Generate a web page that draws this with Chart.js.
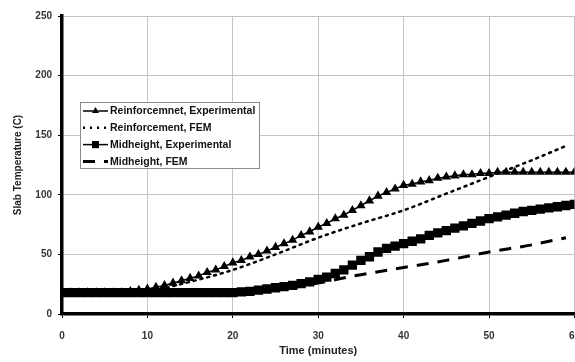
<!DOCTYPE html>
<html>
<head>
<meta charset="utf-8">
<script src="https://cdn.jsdelivr.net/npm/chart.js@4/dist/chart.umd.min.js"></script>
<style>
  html, body { margin: 0; padding: 0; background: #fff; overflow: hidden; }
  #wrap { width: 592px; height: 362px; }
</style>
</head>
<body>
<div id="wrap"><canvas id="myChart" width="592" height="362"></canvas></div>
<script>
// time in minutes for the experimental readings
const timeExp = [0, 1, 2, 3, 4, 5, 6, 7, 8, 9, 10, 11, 12, 13, 14, 15, 16, 17, 18, 19, 20,
    21, 22, 23, 24, 25, 26, 27, 28, 29, 30, 31, 32, 33, 34, 35, 36, 37, 38, 39, 40,
    41, 42, 43, 44, 45, 46, 47, 48, 49, 50, 51, 52, 53, 54, 55, 56, 57, 58, 59, 60];
const reinfExp = [18, 18, 18, 18, 18, 18, 18, 18, 19, 20, 21, 22.5, 24, 26, 28, 30, 32, 35, 37, 40, 43,
    45, 48, 50, 53, 56, 59, 62, 66, 69, 73, 76, 80, 83, 87, 91, 95, 99, 102, 105, 108,
    109, 111, 112, 114, 115, 116, 117, 117, 118, 118, 119, 119, 119, 119, 119, 119, 119, 119, 119, 119];
const midExp = [18, 18, 18, 18, 18, 18, 18, 18, 18, 18, 18, 18, 18, 18, 18, 18, 18, 18, 18, 18, 18,
    18.5, 19, 20, 21, 22, 23, 24, 25.5, 27, 29, 31, 34, 37, 41, 45, 48, 52, 55, 57, 59,
    61, 63, 66, 68, 70, 72, 74, 76, 78, 80, 81.5, 83, 84.5, 86, 87, 88, 89, 90, 91, 92];

// FEM curves
const timeFem = [0, 5, 10, 15, 20, 25, 30, 35, 40, 45, 50, 55, 59];
const reinfFem = [17, 17, 19, 27, 37, 50, 64, 76, 87, 101, 115, 129, 141];
const midFem = [17, 17, 17, 17, 18, 20, 26, 33, 39, 45, 52, 58, 64];

const xTicks = [0, 10, 20, 30, 40, 50, 60];
const yTicks = [0, 50, 100, 150, 200, 250];

const labels = ['Reinforcemnet, Experimental', 'Reinforcement, FEM', 'Midheight, Experimental', 'Midheight, FEM'];

function pts(xs, ys) {
    return xs.map((x, i) => ({ x: x, y: ys[i] }));
}

const FONT = '"Liberation Sans", Arial, sans-serif';

const legendBox = {
    id: 'legendBox',
    afterDraw(chart) {
        const ctx = chart.ctx;
        const x0 = 80, y0 = 102, w = 179, h = 66;
        ctx.save();
        ctx.fillStyle = '#fff';
        ctx.fillRect(x0, y0, w, h);
        ctx.strokeStyle = '#8c8c8c';
        ctx.lineWidth = 1;
        ctx.strokeRect(x0 + 0.5, y0 + 0.5, w, h);
        ctx.font = 'bold 10.5px ' + FONT;
        ctx.textBaseline = 'middle';
        chart.data.datasets.forEach((ds, i) => {
            const y = y0 + 9 + i * 16.8;
            ctx.strokeStyle = '#000';
            ctx.lineWidth = ds.borderWidth;
            ctx.setLineDash(ds.borderDash || []);
            ctx.beginPath();
            ctx.moveTo(83, y);
            ctx.lineTo(108, y);
            ctx.stroke();
            ctx.setLineDash([]);
            if (ds.pointRadius > 0) {
                Chart.helpers.drawPoint(ctx, {
                    pointStyle: ds.pointStyle, radius: ds.pointRadius * 0.75, borderWidth: 0
                }, 95.5, y);
                ctx.fillStyle = '#000';
                ctx.fill();
            }
            ctx.fillStyle = '#111';
            ctx.fillText(labels[i], 110, y + 0.5);
        });
        ctx.restore();
    }
};

new Chart(document.getElementById('myChart'), {
    type: 'line',
    data: {
        datasets: [{
            label: labels[0],
            data: pts(timeExp, reinfExp),
            borderColor: '#000',
            backgroundColor: '#000',
            borderWidth: 1.5,
            pointStyle: 'triangle',
            pointRadius: 5.4,
            pointBorderWidth: 0
        }, {
            label: labels[1],
            data: pts(timeFem, reinfFem),
            borderColor: '#000',
            borderWidth: 2.5,
            borderDash: [2, 5],
            borderCapStyle: 'round',
            pointRadius: 0,
            cubicInterpolationMode: 'monotone'
        }, {
            label: labels[2],
            data: pts(timeExp, midExp),
            borderColor: '#000',
            backgroundColor: '#000',
            borderWidth: 1.5,
            pointStyle: 'rect',
            pointRadius: 6.6,
            pointBorderWidth: 0
        }, {
            label: labels[3],
            data: pts(timeFem, midFem),
            borderColor: '#000',
            borderWidth: 3,
            borderDash: [12, 9],
            pointRadius: 0,
            cubicInterpolationMode: 'monotone'
        }]
    },
    options: {
        responsive: false,
        animation: false,
        layout: { padding: { left: 8, top: 16, right: 0, bottom: 0 } },
        plugins: {
            legend: { display: false },
            tooltip: { enabled: false }
        },
        scales: {
            x: {
                type: 'linear',
                min: 0,
                max: 60,
                afterBuildTicks: (s) => { s.ticks = xTicks.map(v => ({ value: v })); },
                afterFit: (s) => { s.height = 48; },
                grid: { color: '#c4c4c4', lineWidth: 1, tickColor: '#000', tickLength: 4 },
                border: { color: '#000', width: 3.5 },
                ticks: { color: '#333', padding: 12, font: { family: FONT, size: 10, weight: 'bold' } },
                title: {
                    display: true, text: 'Time (minutes)', color: '#222',
                    padding: { top: 0, bottom: 4 },
                    font: { family: FONT, size: 11, weight: 'bold' }
                }
            },
            y: {
                min: 0,
                max: 250,
                afterBuildTicks: (s) => { s.ticks = yTicks.map(v => ({ value: v })); },
                afterFit: (s) => { s.width = 54; },
                grid: { color: '#c4c4c4', lineWidth: 1, tickColor: '#000', tickLength: 4 },
                border: { color: '#000', width: 3.5 },
                ticks: { color: '#333', padding: 6, font: { family: FONT, size: 10, weight: 'bold' } },
                title: {
                    display: true, text: 'Slab Temperature (C)', color: '#222',
                    padding: { top: 4, bottom: 0 },
                    font: { family: FONT, size: 10, weight: 'bold' }
                }
            }
        }
    },
    plugins: [legendBox]
});
</script>
</body>
</html>
